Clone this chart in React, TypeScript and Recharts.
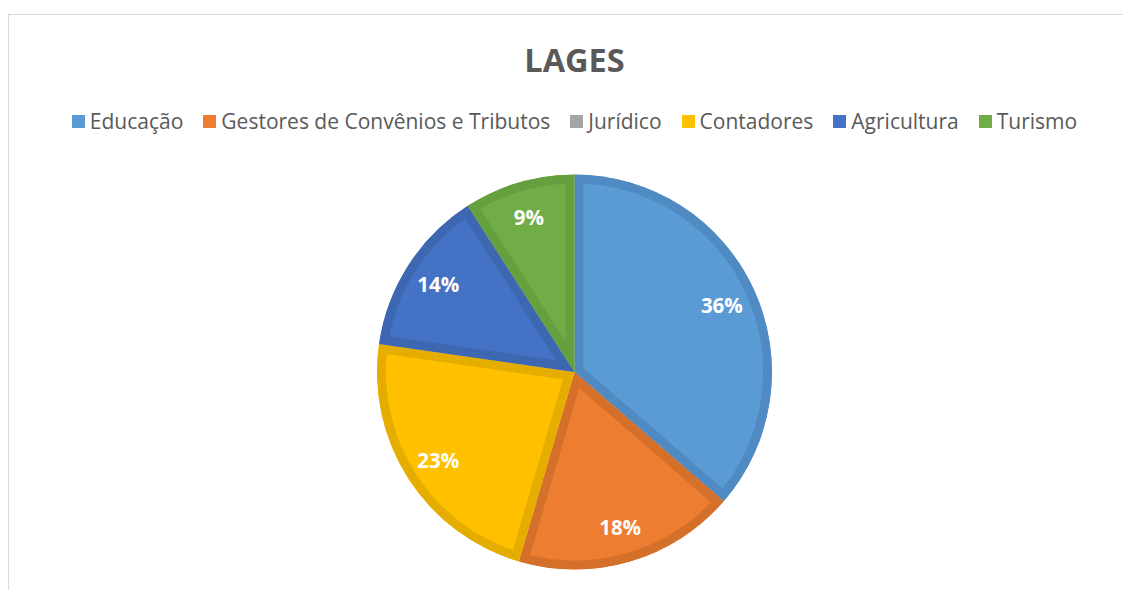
import { PieChart, Pie } from 'recharts';

const categories = ['Educação', 'Gestores de Convênios e Tributos', 'Jurídico', 'Contadores', 'Agricultura', 'Turismo'];
const values = [8, 4, 0, 5, 3, 2];
const fills = ['#5B9BD5', '#ED7D31', '#A5A5A5', '#FFC000', '#4472C4', '#70AD47'];
const borders = ['#4F8AC2', '#D5702B', '#959595', '#E5AD00', '#3D67B1', '#65A03F'];

const chartData = categories.map((name, i) => ({ name, value: values[i], fill: fills[i] }));

const RAD = Math.PI / 180;
const FONT = '"Open Sans", Lato, sans-serif';

function sectorPath(cx: number, cy: number, r: number, a0: number, a1: number) {
  const x0 = cx + r * Math.cos(-a0 * RAD);
  const y0 = cy + r * Math.sin(-a0 * RAD);
  const x1 = cx + r * Math.cos(-a1 * RAD);
  const y1 = cy + r * Math.sin(-a1 * RAD);
  const large = Math.abs(a1 - a0) > 180 ? 1 : 0;
  const sweep = a1 < a0 ? 1 : 0;
  return `M${cx},${cy} L${x0},${y0} A${r},${r} 0 ${large} ${sweep} ${x1},${y1} Z`;
}

function SliceShape(props: any) {
  const { cx, cy, outerRadius, startAngle, endAngle, index } = props;
  if (Math.abs(endAngle - startAngle) < 0.01) return <g />;
  const d = sectorPath(cx, cy, outerRadius, startAngle, endAngle);
  const id = `slice-clip-${index}`;
  return (
    <g>
      <defs>
        <clipPath id={id}>
          <path d={d} />
        </clipPath>
      </defs>
      <path d={d} fill={fills[index]} stroke={borders[index]} strokeWidth={18} strokeLinejoin="miter" clipPath={`url(#${id})`} />
    </g>
  );
}

function renderLabel(props: any) {
  const { cx, cy, midAngle, percent, value } = props;
  if (!value) return null;
  const r = 162;
  const x = cx + r * Math.cos(-midAngle * RAD);
  const y = cy + r * Math.sin(-midAngle * RAD);
  return (
    <text x={x} y={y} fill="#ffffff" textAnchor="middle" dominantBaseline="central" fontFamily={FONT} fontWeight={700} fontSize={20.5}>
      {`${Math.round(percent * 100)}%`}
    </text>
  );
}

export default function App() {
  return (
    <div style={{ position: 'relative', width: 1123, height: 582, background: '#fff' }}>
      <div style={{ position: 'absolute', left: 0, top: 6, right: -10, bottom: -10, borderTop: '1.5px solid #d9d9d9', borderLeft: '1.5px solid #d9d9d9' }} />
      <div style={{ position: 'absolute', left: 0, top: 29, width: 1133, textAlign: 'center', fontFamily: FONT, fontWeight: 700, fontSize: 32.5, color: '#595959' }}>
        LAGES
      </div>
      <div style={{ position: 'absolute', left: 0, top: 99, width: 1133, display: 'flex', justifyContent: 'center', gap: 20, fontFamily: FONT, fontSize: 21, color: '#595959' }}>
        {categories.map((name, i) => (
          <div key={name} style={{ display: 'flex', alignItems: 'center' }}>
            <span style={{ display: 'inline-block', width: 13, height: 13, background: fills[i], marginRight: 5 }} />
            <span>{name}</span>
          </div>
        ))}
      </div>
      <div style={{ position: 'absolute', left: 0, top: 0 }}>
        <PieChart width={1133} height={582} margin={{ top: 0, right: 0, bottom: 0, left: 0 }}>
          <Pie
            data={chartData}
            dataKey="value"
            nameKey="name"
            cx={566.5}
            cy={364}
            outerRadius={197.5}
            startAngle={90}
            endAngle={-270}
            stroke="none"
            shape={SliceShape}
            label={renderLabel}
            labelLine={false}
            isAnimationActive={false}
          />
        </PieChart>
      </div>
    </div>
  );
}
